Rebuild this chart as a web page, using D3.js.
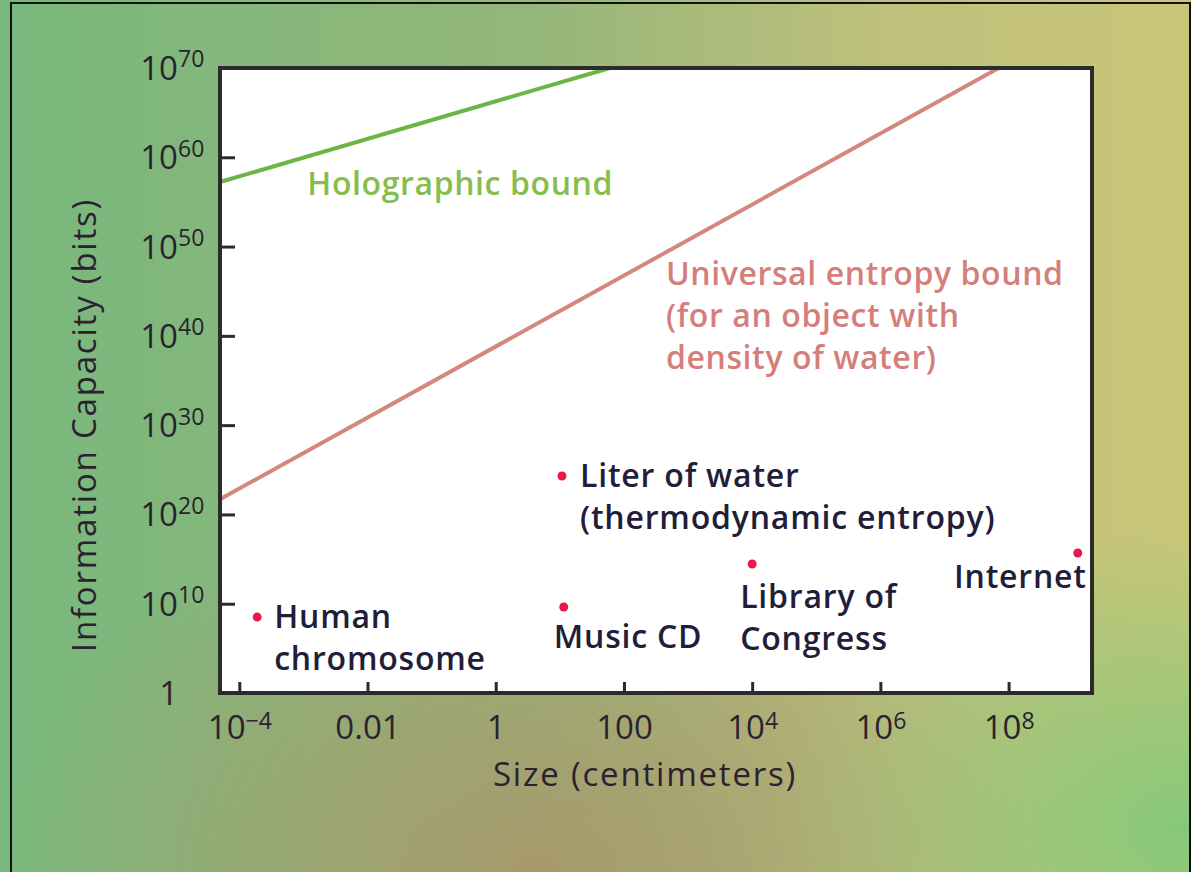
<!DOCTYPE html>
<html>
<head>
<meta charset="utf-8">
<script src="https://cdn.jsdelivr.net/npm/d3@7"></script>
<style>
  html, body { margin: 0; padding: 0; background: #fff; }
  svg { display: block; }
  text { font-family: "Open Sans", Lato, sans-serif; }
</style>
</head>
<body>
<div id="chart"></div>
<script>
// Bounds (two end points each)
const holoSizes = [5e-5, 60];
const holoBits = [1.7e57, 1e70];
const entropySizes = [5e-5, 7e7];
const entropyBits = [5e21, 1e70];

// Objects
const objectNames = ["Human chromosome", "Liter of water", "Music CD", "Library of Congress", "Internet"];
const objectSizes = [1.9e-4, 10.8, 11.5, 1e4, 1.2e9];
const objectBits = [3.2e8, 2e24, 4.3e9, 2.8e14, 4.8e15];
const objectLines = [
    ["Human", "chromosome"],
    ["Liter of water", "(thermodynamic entropy)"],
    ["Music CD"],
    ["Library of", "Congress"],
    ["Internet"]
];

// Ticks
const xTicks = [1e-4, 0.01, 1, 100, 1e4, 1e6, 1e8];
const xTickBase = ["10", "0.01", "1", "100", "10", "10", "10"];
const xTickExp = ["\u22124", "", "", "", "4", "6", "8"];
const yTicks = [1, 1e10, 1e20, 1e30, 1e40, 1e50, 1e60, 1e70];
const yTickBase = ["1", "10", "10", "10", "10", "10", "10", "10"];
const yTickExp = ["", "10", "20", "30", "40", "50", "60", "70"];

const W = 1191, H = 872;
const margin = { top: 68, right: 99, bottom: 179, left: 220 };
const width = W - margin.left - margin.right;
const height = H - margin.top - margin.bottom;

const svg = d3.select("#chart").append("svg")
    .attr("width", W)
    .attr("height", H);

// Background gradients
const defs = svg.append("defs");
const base = defs.append("linearGradient").attr("id", "bgBase")
    .attr("x1", "0%").attr("y1", "0%").attr("x2", "100%").attr("y2", "0%");
base.append("stop").attr("offset", "0%").attr("stop-color", "#78b87c");
base.append("stop").attr("offset", "45%").attr("stop-color", "#95b67a");
base.append("stop").attr("offset", "75%").attr("stop-color", "#c0c07c");
base.append("stop").attr("offset", "100%").attr("stop-color", "#cac679");

const tan = defs.append("radialGradient").attr("id", "bgTan")
    .attr("cx", "45%").attr("cy", "100%").attr("r", "45%");
tan.append("stop").attr("offset", "0%").attr("stop-color", "#a8986c").attr("stop-opacity", 0.95);
tan.append("stop").attr("offset", "100%").attr("stop-color", "#a8986c").attr("stop-opacity", 0);

const grn = defs.append("radialGradient").attr("id", "bgGreen")
    .attr("cx", "100%").attr("cy", "95%").attr("r", "35%");
grn.append("stop").attr("offset", "0%").attr("stop-color", "#86c878").attr("stop-opacity", 1);
grn.append("stop").attr("offset", "100%").attr("stop-color", "#86c878").attr("stop-opacity", 0);

svg.append("rect").attr("width", W).attr("height", H).attr("fill", "url(#bgBase)");
svg.append("rect").attr("width", W).attr("height", H).attr("fill", "url(#bgTan)");
svg.append("rect").attr("width", W).attr("height", H).attr("fill", "url(#bgGreen)");
svg.append("rect")
    .attr("x", 11).attr("y", 3).attr("width", 1179).attr("height", 900)
    .attr("fill", "none").attr("stroke", "#111").attr("stroke-width", 2);

const g = svg.append("g")
    .attr("transform", "translate(" + margin.left + "," + margin.top + ")");

// Scales
const x = d3.scaleLog().domain([5e-5, 2e9]).range([0, width]);
const y = d3.scaleLog().domain([1, 1e70]).range([height, 0]);

g.append("rect")
    .attr("width", width).attr("height", height)
    .attr("fill", "#fff");

// Bound lines
const line = d3.line().x(d => x(d[0])).y(d => y(d[1]));
g.append("path")
    .datum(d3.zip(holoSizes, holoBits))
    .attr("d", line)
    .attr("fill", "none").attr("stroke", "#6db544").attr("stroke-width", 4);
g.append("path")
    .datum(d3.zip(entropySizes, entropyBits))
    .attr("d", line)
    .attr("fill", "none").attr("stroke", "#d4887c").attr("stroke-width", 4);

// Axes
const xAxis = g.append("g")
    .attr("transform", "translate(0," + height + ")")
    .call(d3.axisBottom(x).tickValues(xTicks).tickSize(-11).tickPadding(18).tickFormat(""));
const yAxis = g.append("g")
    .call(d3.axisLeft(y).tickValues(yTicks).tickSize(-15).tickPadding(42).tickFormat(""));

[xAxis, yAxis].forEach(a => {
    a.select(".domain").remove();
    a.selectAll(".tick line").attr("stroke", "#2b2b2b").attr("stroke-width", 3);
});

xAxis.selectAll(".tick text")
    .attr("font-size", 33).attr("fill", "#2a2230").attr("dy", "0.85em")
    .each(function(d, i) {
        const t = d3.select(this);
        t.append("tspan").text(xTickBase[i]);
        if (xTickExp[i]) {
            t.append("tspan").attr("dy", "-0.45em").attr("font-size", 23).text(xTickExp[i]);
        }
    });

yAxis.selectAll(".tick text")
    .attr("font-size", 33).attr("fill", "#2a2230").attr("dy", "0.35em")
    .each(function(d, i) {
        d3.select(this).text(yTickBase[i]);
        if (yTickExp[i]) {
            d3.select(this.parentNode).append("text")
                .attr("x", d3.select(this).attr("x"))
                .attr("dy", "-0.05em")
                .attr("font-size", 23).attr("fill", "#2a2230")
                .attr("text-anchor", "start")
                .text(yTickExp[i]);
        }
    });

// Frame
g.append("rect")
    .attr("width", width).attr("height", height)
    .attr("fill", "none").attr("stroke", "#2b2b2b").attr("stroke-width", 4);

// Bound labels
g.append("text")
    .attr("x", x(1.15e-3)).attr("y", y(1e56) + 2)
    .attr("font-size", 32).attr("font-weight", 600).attr("letter-spacing", 0.6)
    .attr("fill", "#86bd4f")
    .text("Holographic bound");

const entLabel = g.append("text")
    .attr("x", x(1e2) + 42).attr("y", y(1e46) + 3)
    .attr("font-size", 32).attr("font-weight", 600).attr("letter-spacing", 0.6)
    .attr("fill", "#d47f7c");
["Universal entropy bound", "(for an object with", "density of water)"].forEach((s, i) => {
    entLabel.append("tspan").attr("x", x(1e2) + 42).attr("dy", i ? 42 : 0).text(s);
});

// Objects
g.selectAll(".dot")
    .data(objectNames)
    .enter()
    .append("circle")
    .attr("class", "dot")
    .attr("cx", (d, i) => x(objectSizes[i]))
    .attr("cy", (d, i) => y(objectBits[i]))
    .attr("r", 4.5)
    .attr("fill", "#e8184a");

// label placement relative to each dot: dx, dy, anchor
const labelPlace = [
    { dx: 17, dy: 11, anchor: "start" },
    { dx: 18, dy: 11, anchor: "start" },
    { dx: -10, dy: 41, anchor: "start" },
    { dx: -12, dy: 44, anchor: "start" },
    { dx: 9, dy: 35, anchor: "end" }
];

g.selectAll(".obj-label")
    .data(objectNames)
    .enter()
    .append("text")
    .attr("class", "obj-label")
    .attr("font-size", 32).attr("font-weight", 600).attr("letter-spacing", 0.8)
    .attr("fill", "#221d38")
    .attr("text-anchor", (d, i) => labelPlace[i].anchor)
    .each(function(d, i) {
        const cx = x(objectSizes[i]) + labelPlace[i].dx;
        const cy = y(objectBits[i]) + labelPlace[i].dy;
        objectLines[i].forEach((s, j) => {
            d3.select(this).append("tspan")
                .attr("x", cx)
                .attr("y", cy + j * 42)
                .text(s);
        });
    });

// Axis titles
svg.append("text")
    .attr("x", 645).attr("y", 786)
    .attr("text-anchor", "middle")
    .attr("font-size", 33).attr("letter-spacing", 1.8).attr("fill", "#2a2230")
    .text("Size (centimeters)");

svg.append("text")
    .attr("transform", "translate(96,425) rotate(-90)")
    .attr("text-anchor", "middle")
    .attr("font-size", 33).attr("letter-spacing", 1.8).attr("fill", "#2a2230")
    .text("Information Capacity (bits)");
</script>
</body>
</html>
